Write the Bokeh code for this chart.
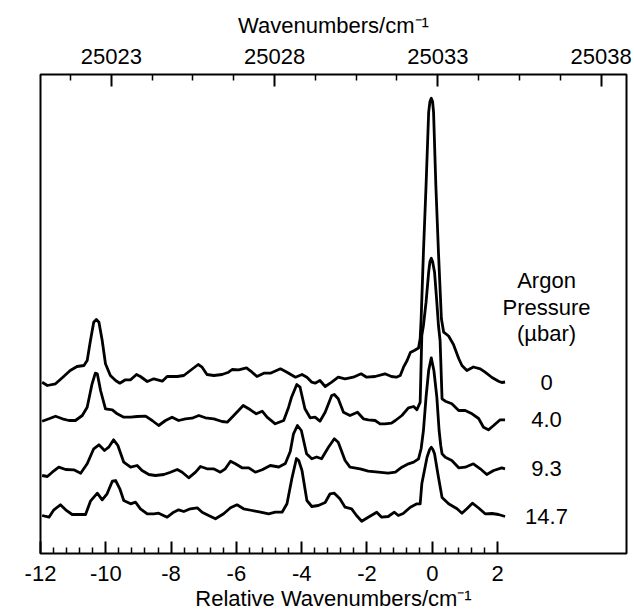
from bokeh.plotting import figure
from bokeh.models import Range1d, LinearAxis, FixedTicker, Label
from bokeh.embed import file_html
from bokeh.resources import INLINE

# ---------------- data (relative wavenumber, stacked intensity a.u.) ----------------
x0 = [-11.95, -11.79, -11.54, -11.29, -11.09, -10.88, -10.67, -10.57, -10.47, -10.37, -10.29, -10.21, -10.11, -10.01, -9.86, -9.70, -9.57, -9.40, -9.24, -9.06, -8.94, -8.73, -8.53, -8.27, -8.12, -7.81, -7.61, -7.41, -7.17, -7.05, -6.90, -6.69, -6.44, -6.24, -6.13, -5.93, -5.69, -5.52, -5.37, -5.16, -4.96, -4.65, -4.45, -4.19, -3.99, -3.84, -3.69, -3.59, -3.44, -3.28, -3.08, -2.88, -2.67, -2.42, -2.18, -2.01, -1.75, -1.45, -1.25, -1.10, -0.98, -0.88, -0.77, -0.67, -0.55, -0.42, -0.37, -0.34, -0.27, -0.19, -0.11, -0.07, -0.03, 0.01, 0.04, 0.11, 0.19, 0.28, 0.35, 0.50, 0.65, 0.81, 0.91, 1.06, 1.26, 1.47, 1.62, 1.83, 2.03, 2.13, 2.23]
y0 = [17.13, 16.80, 16.97, 17.70, 18.30, 18.70, 18.80, 19.30, 21.30, 23.13, 23.40, 23.13, 21.30, 18.97, 17.80, 17.30, 17.03, 17.37, 17.37, 17.90, 17.70, 17.20, 17.47, 17.23, 17.70, 17.70, 17.80, 18.30, 18.90, 18.63, 17.90, 17.80, 17.90, 18.13, 18.40, 18.37, 18.57, 18.13, 17.70, 18.03, 18.03, 18.47, 18.13, 17.63, 17.90, 17.63, 17.13, 17.03, 17.30, 16.70, 17.13, 17.63, 17.47, 17.63, 17.97, 17.63, 17.70, 17.97, 17.70, 17.63, 17.80, 18.63, 19.30, 20.10, 20.30, 20.55, 21.50, 23.50, 30.13, 36.80, 44.13, 45.20, 45.53, 45.20, 44.13, 36.80, 30.13, 23.47, 22.13, 21.75, 20.90, 19.50, 18.80, 18.30, 18.65, 18.47, 18.13, 17.60, 17.23, 17.10, 17.15]

x1 = [-11.95, -11.74, -11.54, -11.33, -11.13, -10.93, -10.72, -10.57, -10.42, -10.32, -10.26, -10.16, -10.01, -9.80, -9.65, -9.45, -9.24, -9.04, -8.78, -8.58, -8.38, -8.17, -7.97, -7.77, -7.56, -7.36, -7.15, -6.95, -6.69, -6.44, -6.28, -6.08, -5.79, -5.57, -5.39, -5.21, -5.06, -4.81, -4.55, -4.40, -4.31, -4.15, -4.05, -3.90, -3.74, -3.59, -3.44, -3.28, -3.08, -3.00, -2.88, -2.72, -2.52, -2.29, -2.11, -1.96, -1.75, -1.60, -1.45, -1.25, -1.13, -0.93, -0.73, -0.57, -0.47, -0.37, -0.32, -0.27, -0.19, -0.11, -0.07, -0.03, 0.01, 0.07, 0.14, 0.19, 0.24, 0.30, 0.40, 0.60, 0.81, 1.01, 1.22, 1.42, 1.57, 1.72, 1.88, 2.08, 2.23]
y1 = [13.23, 13.47, 13.73, 13.47, 13.30, 13.30, 13.80, 14.63, 16.97, 18.03, 17.97, 16.30, 14.47, 14.37, 13.97, 13.63, 13.63, 13.70, 13.73, 13.30, 12.80, 13.30, 13.63, 13.30, 13.47, 13.53, 13.80, 13.57, 13.47, 13.20, 13.13, 13.80, 14.80, 14.37, 13.97, 14.23, 13.63, 12.97, 13.30, 14.63, 15.63, 16.90, 16.63, 14.47, 13.57, 13.63, 13.23, 14.13, 15.80, 15.90, 15.47, 14.13, 13.80, 14.13, 13.47, 13.37, 13.30, 12.97, 12.97, 13.03, 13.30, 13.80, 14.57, 14.70, 14.37, 15.13, 21.80, 22.80, 25.13, 28.13, 29.20, 29.53, 29.20, 28.13, 25.13, 22.80, 21.30, 15.47, 15.23, 14.97, 14.30, 14.30, 13.97, 13.50, 12.63, 12.37, 12.80, 13.37, 13.37]

x2 = [-11.95, -11.79, -11.64, -11.44, -11.23, -10.98, -10.77, -10.57, -10.37, -10.21, -10.04, -9.91, -9.76, -9.63, -9.45, -9.24, -9.04, -8.89, -8.68, -8.48, -8.22, -8.02, -7.81, -7.66, -7.46, -7.25, -7.10, -6.90, -6.70, -6.49, -6.34, -6.18, -6.03, -5.83, -5.62, -5.42, -5.21, -4.96, -4.70, -4.50, -4.35, -4.25, -4.13, -4.01, -3.85, -3.69, -3.54, -3.39, -3.18, -3.00, -2.88, -2.67, -2.52, -2.21, -1.96, -1.65, -1.35, -1.13, -0.93, -0.73, -0.57, -0.42, -0.34, -0.27, -0.19, -0.11, -0.03, 0.05, 0.14, 0.21, 0.26, 0.30, 0.40, 0.60, 0.81, 1.01, 1.26, 1.47, 1.67, 1.88, 2.13, 2.23]
y2 = [7.80, 7.70, 8.13, 8.63, 8.40, 8.37, 8.03, 8.97, 10.47, 10.87, 10.30, 10.63, 11.37, 10.80, 9.13, 8.63, 8.80, 8.30, 7.90, 7.80, 7.90, 8.13, 8.40, 8.13, 7.57, 8.13, 8.70, 8.47, 8.47, 8.13, 8.47, 9.23, 8.97, 8.57, 8.57, 8.13, 8.37, 8.80, 8.65, 9.00, 10.20, 11.97, 12.80, 12.30, 9.97, 9.47, 9.65, 9.47, 10.63, 11.47, 11.13, 9.30, 8.63, 8.47, 8.23, 8.13, 8.03, 8.13, 8.63, 8.97, 9.13, 9.47, 10.50, 12.30, 15.63, 18.30, 19.57, 18.30, 15.63, 12.30, 10.80, 9.97, 9.63, 9.30, 8.57, 8.63, 8.97, 8.47, 7.90, 8.30, 8.57, 8.47]

x3 = [-11.95, -11.74, -11.59, -11.39, -11.23, -11.03, -10.83, -10.62, -10.47, -10.26, -10.11, -9.96, -9.80, -9.70, -9.57, -9.45, -9.24, -9.09, -8.94, -8.73, -8.53, -8.38, -8.12, -7.92, -7.77, -7.61, -7.41, -7.20, -7.05, -6.85, -6.64, -6.39, -6.18, -5.98, -5.78, -5.52, -5.26, -5.01, -4.81, -4.60, -4.45, -4.30, -4.16, -4.09, -3.99, -3.84, -3.69, -3.49, -3.28, -3.13, -3.00, -2.83, -2.67, -2.47, -2.32, -2.16, -1.96, -1.70, -1.55, -1.35, -1.16, -1.04, -0.89, -0.67, -0.47, -0.37, -0.32, -0.16, -0.08, -0.03, 0.02, 0.07, 0.19, 0.30, 0.50, 0.76, 0.91, 1.06, 1.23, 1.42, 1.62, 1.83, 2.03, 2.23]
y3 = [3.80, 3.63, 4.37, 4.87, 4.37, 3.90, 3.90, 3.90, 5.23, 6.03, 5.37, 5.97, 7.23, 7.30, 6.47, 5.30, 4.97, 5.13, 4.47, 3.97, 3.97, 4.03, 3.63, 4.13, 4.37, 4.20, 4.47, 4.57, 4.13, 3.80, 3.47, 3.97, 4.57, 4.87, 4.47, 4.30, 4.13, 3.97, 4.13, 4.13, 4.97, 7.50, 9.50, 9.30, 8.30, 5.30, 4.70, 4.80, 5.10, 5.97, 6.03, 5.47, 4.63, 4.47, 3.80, 3.23, 3.63, 4.13, 3.63, 3.70, 4.13, 3.80, 4.00, 4.63, 4.97, 4.97, 6.97, 9.63, 10.40, 10.63, 10.40, 9.97, 7.63, 5.60, 4.97, 4.47, 4.03, 4.47, 5.03, 4.55, 3.97, 4.00, 3.90, 3.70]

pressures = ["0", "4.0", "9.3", "14.7"]
legend_title = ["Argon", "Pressure", "(\u00b5bar)"]

bottom_ticks = [-12, -10, -8, -6, -4, -2, 0, 2]
bottom_tick_labels = ["-12", "-10", "-8", "-6", "-4", "-2", "0", "2"]
top_ticks = [25023, 25028, 25033, 25038]
top_tick_labels = ["25023", "25028", "25033", "25038"]
wn_offset = 25032.83  # absolute wavenumber of relative 0

top_title = "Wavenumbers/cm\u207b\u00b9"
bottom_title = "Relative Wavenumbers/cm\u207b\u00b9"

# ---------------- figure ----------------
FONT = "Liberation Sans"
X0, X1 = -12.0, 5.95
p = figure(width=634, height=613, x_range=Range1d(X0, X1), y_range=Range1d(0, 47.9),
           output_backend="svg", toolbar_location=None,
           x_axis_location=None, y_axis_location=None)
p.min_border_left = 40
p.min_border_right = 8
p.min_border_top = 74
p.min_border_bottom = 60
for g in p.grid:
    g.visible = False
p.outline_line_color = "black"
p.outline_line_width = 2
p.background_fill_color = "white"
p.border_fill_color = "white"

bottom_minor = [round(-12 + 0.4 * i, 2) for i in range(36) if i % 5 != 0]
xb = LinearAxis(ticker=FixedTicker(ticks=bottom_ticks, minor_ticks=bottom_minor),
                major_label_overrides={t: l for t, l in zip(bottom_ticks, bottom_tick_labels)},
                axis_label=bottom_title)
p.add_layout(xb, "below")

p.extra_x_ranges = {"wn": Range1d(X0 + wn_offset, X1 + wn_offset)}
top_minor = [25021.75, 25024.25, 25025.5, 25026.75, 25029.25, 25030.5, 25031.75,
             25034.25, 25035.5, 25036.75]
xt = LinearAxis(x_range_name="wn", ticker=FixedTicker(ticks=top_ticks, minor_ticks=top_minor),
                major_label_overrides={t: l for t, l in zip(top_ticks, top_tick_labels)},
                axis_label=top_title)
p.add_layout(xt, "above")

for ax in (xb, xt):
    ax.axis_line_color = None
    ax.major_tick_in = 12
    ax.major_tick_out = 0
    ax.minor_tick_in = 6
    ax.minor_tick_out = 0
    ax.major_tick_line_width = 2
    ax.minor_tick_line_width = 1.5
    ax.major_tick_line_color = "black"
    ax.minor_tick_line_color = "black"
    ax.major_label_text_font = FONT
    ax.major_label_text_font_size = "22px"
    ax.major_label_text_color = "black"
    ax.axis_label_text_font = FONT
    ax.axis_label_text_font_size = "22px"
    ax.axis_label_text_font_style = "normal"
    ax.axis_label_text_color = "black"
xb.major_label_standoff = 12
xb.axis_label_standoff = 2
xt.major_label_standoff = 11
xt.axis_label_standoff = 8

traces = [(x0, y0), (x1, y1), (x2, y2), (x3, y3)]
for xs, ys in traces:
    p.line(xs, ys, line_color="black", line_width=2.8, line_join="round")

# pressure labels beside trace ends
for (xs, ys), lab in zip(traces, pressures):
    p.add_layout(Label(x=3.5, y=ys[-1], text=lab, text_font=FONT, text_font_size="22px",
                       text_align="center", text_baseline="middle", text_color="black"))

for i, t in enumerate(legend_title):
    p.add_layout(Label(x=3.5, y=27.3 - 2.65 * i, text=t, text_font=FONT, text_font_size="22px",
                       text_align="center", text_baseline="middle", text_color="black"))

open("out.html", "w").write(file_html(p, INLINE))
